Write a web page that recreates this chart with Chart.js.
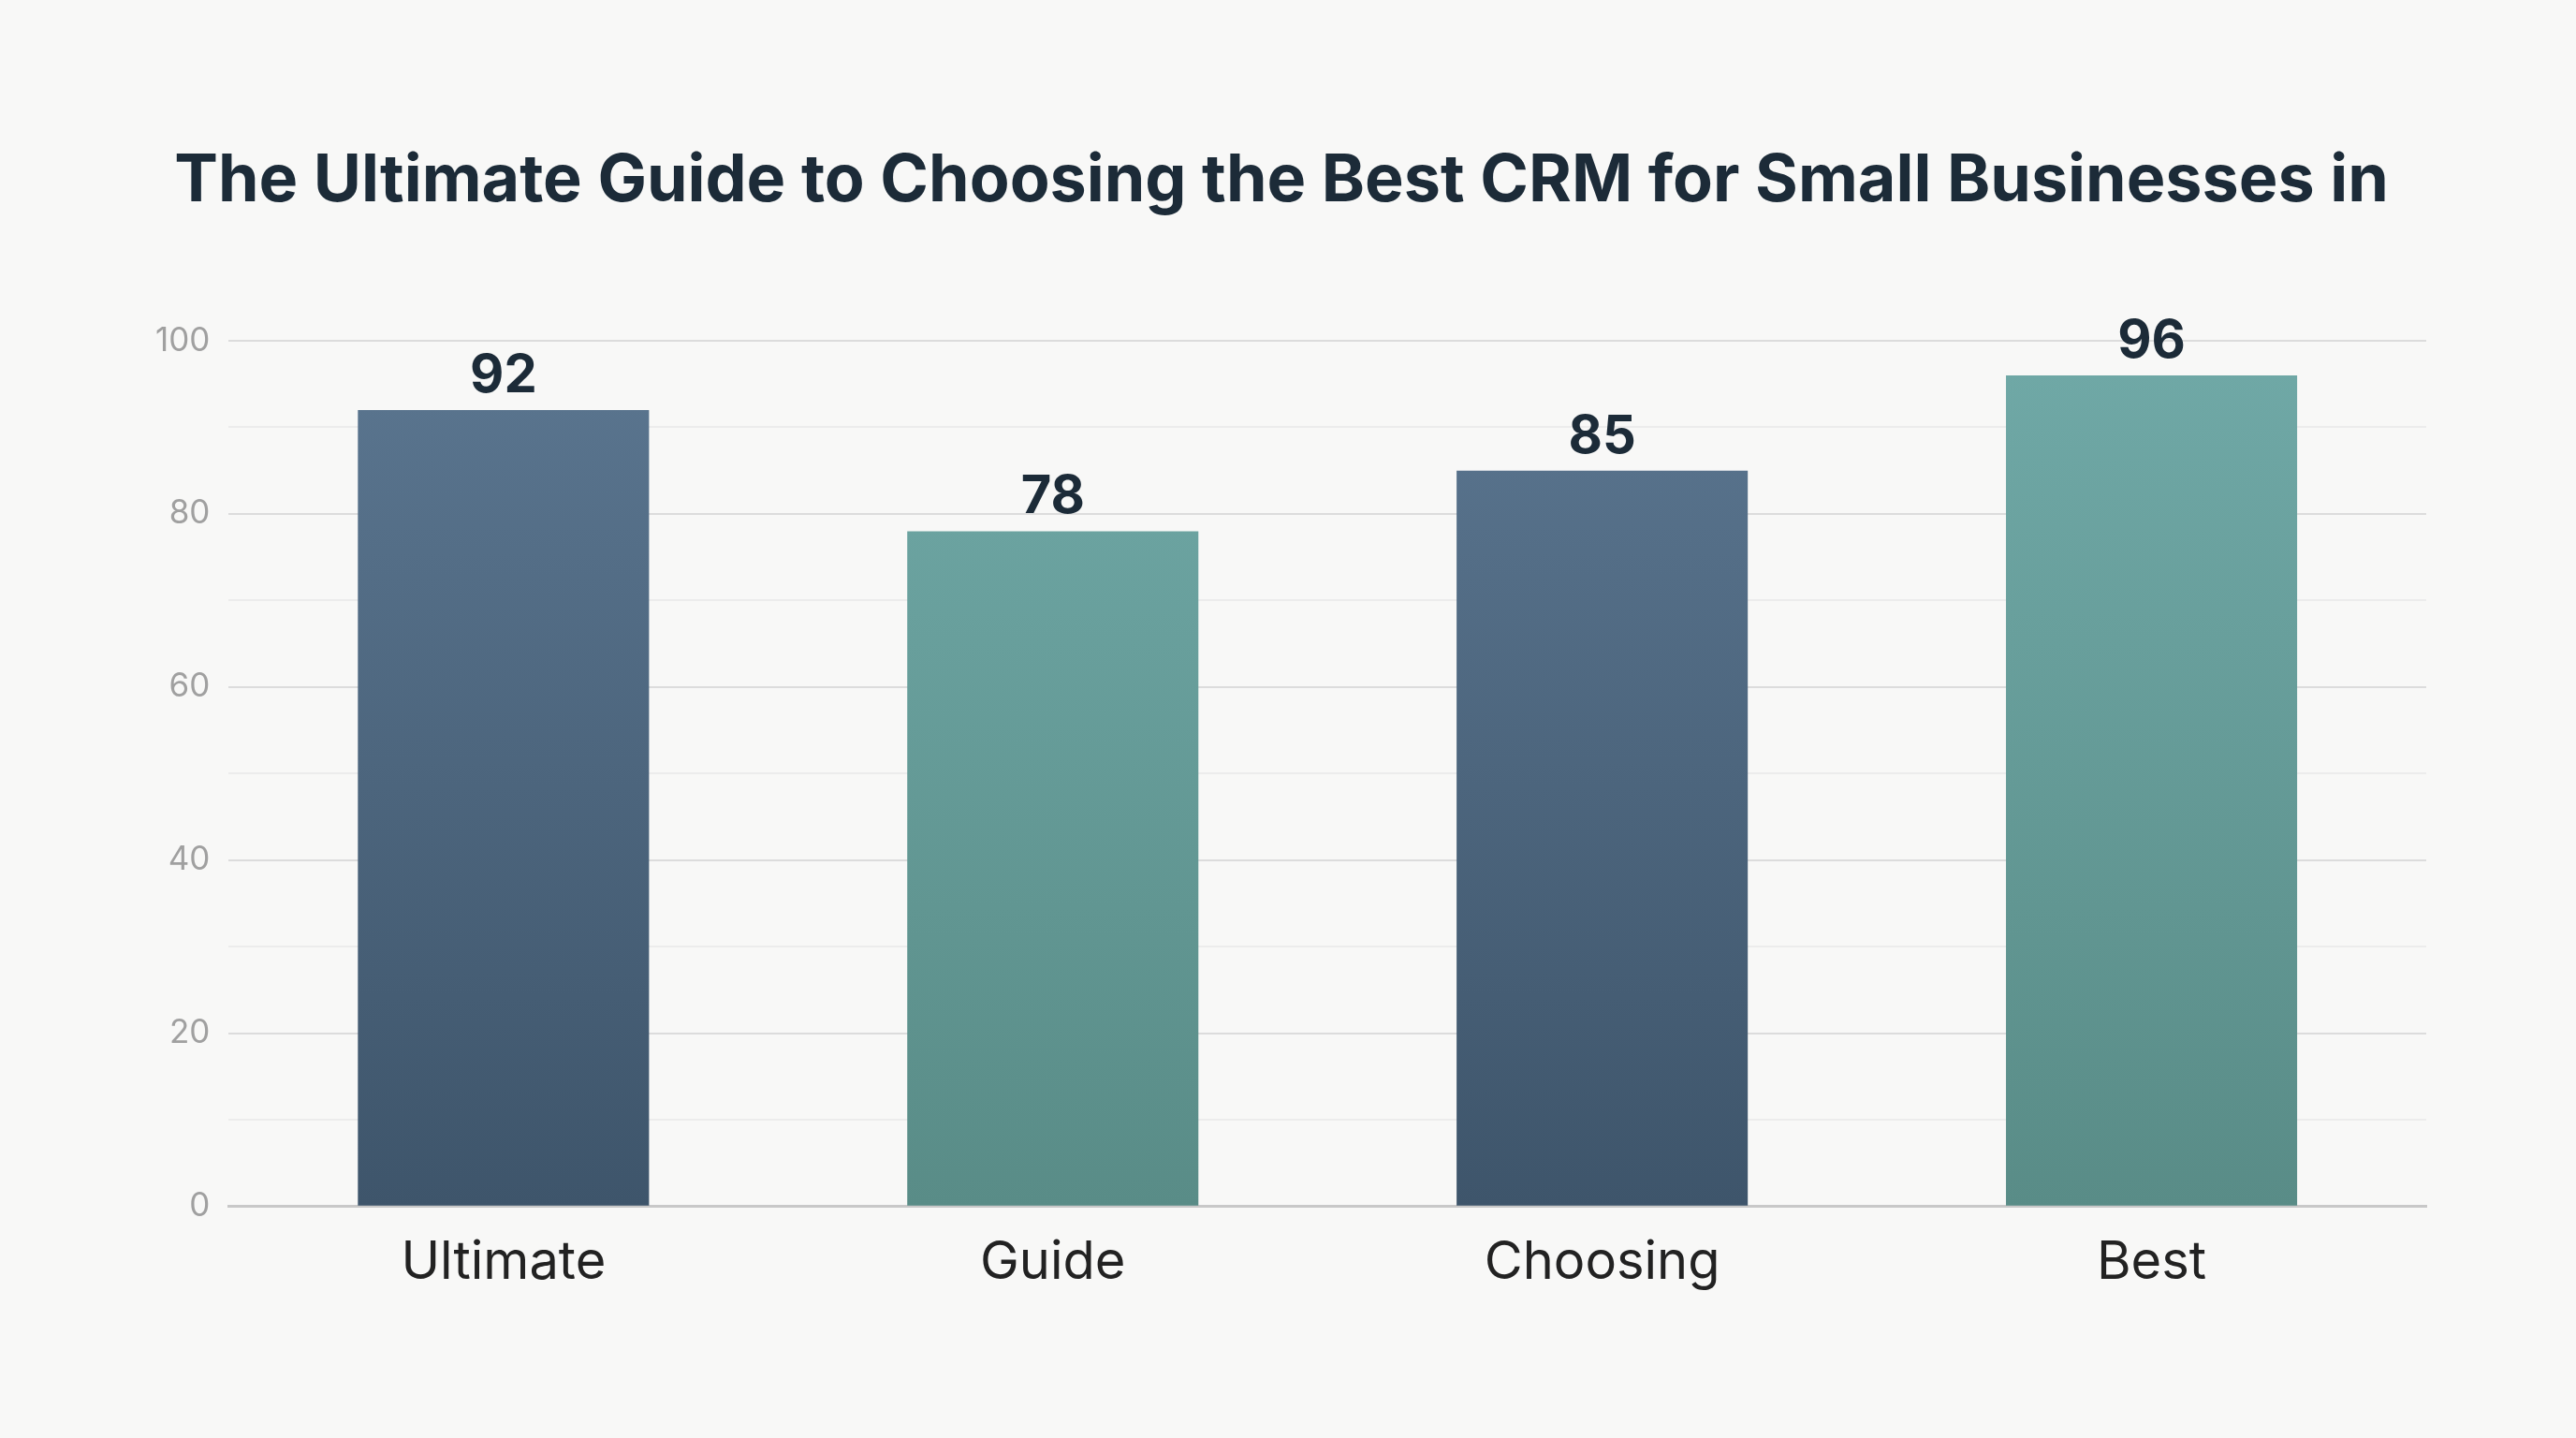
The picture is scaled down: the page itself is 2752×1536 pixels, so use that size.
<!DOCTYPE html>
<html><head><meta charset="utf-8">
<script src="https://cdn.jsdelivr.net/npm/chart.js@4"></script>
<style>html,body{margin:0;background:#f8f8f7;}#w{width:2752px;height:1536px;}</style>
</head><body><div id="w"><canvas id="c"></canvas></div>
<script>
const categories = ["Ultimate","Guide","Choosing","Best"];
const values = [92,78,85,96];
const title = "The Ultimate Guide to Choosing the Best CRM for Small Businesses in";
const colorsTop = ["#5b7690","#70a9a7","#5b7690","#70a9a7"];
const colorsBot = ["#3e556b","#598c87","#3e556b","#598c87"];

const labelPlugin = {
  id:'lbl',
  afterDatasetsDraw(chart){
    const ctx=chart.ctx, meta=chart.getDatasetMeta(0);
    ctx.save();ctx.font='bold 56px "Inter","DejaVu Sans",sans-serif';ctx.fillStyle='#1c2b38';
    ctx.textAlign='center';ctx.textBaseline='bottom';
    meta.data.forEach((b,i)=>ctx.fillText(values[i],b.x,b.y-8));
    ctx.restore();
  }
};
new Chart(document.getElementById('c'),{
  type:'bar',
  data:{labels:categories,datasets:[{data:values,
    backgroundColor:(c)=>{const a=c.chart.chartArea;if(!a)return colorsTop[c.dataIndex];
      const g=c.chart.ctx.createLinearGradient(0,a.top,0,a.bottom);
      g.addColorStop(0,colorsTop[c.dataIndex]);g.addColorStop(1,colorsBot[c.dataIndex]);return g;},
    categoryPercentage:1,barPercentage:0.53}]},
  options:{responsive:true,maintainAspectRatio:false,animation:false,
    layout:{padding:{left:146,right:160,top:60,bottom:134}},
    plugins:{legend:{display:false},tooltip:{enabled:false},
      title:{display:true,text:title,color:'#1c2b38',font:{size:70,weight:'bold',family:'"Inter","DejaVu Sans",sans-serif'},padding:{top:92,bottom:128}}},
    scales:{
      x:{grid:{display:false},border:{color:'#c8c8c8',width:3},
        ticks:{color:'#222',font:{size:56,family:'"Inter","DejaVu Sans",sans-serif'},padding:19}},
      y:{min:0,max:100,border:{display:false},
        grid:{color:(c)=>c.tick.value%20===0?'#dcdcdc':'#ececec',lineWidth:2,drawTicks:false},
        ticks:{stepSize:10,color:'#a0a0a0',padding:20,font:{size:35,family:'"Inter","DejaVu Sans",sans-serif'},
          callback:(v)=>v%20===0?v:''}}
    }},
  plugins:[labelPlugin]
});
</script></body></html>
